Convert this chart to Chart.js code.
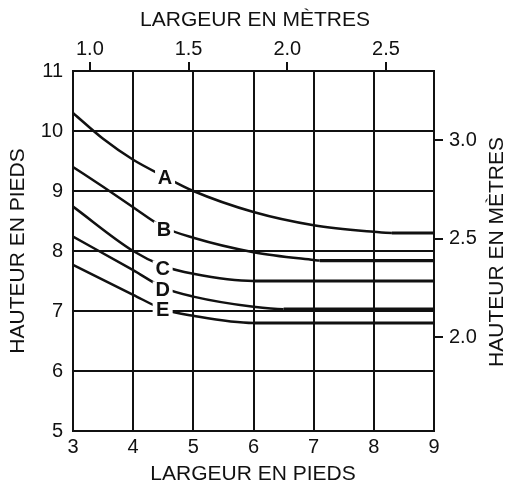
<!DOCTYPE html>
<html>
<head>
<meta charset="utf-8">
<style>
  html, body { margin: 0; padding: 0; background: #fff; }
  canvas { display: block; }
</style>
<script src="https://cdn.jsdelivr.net/npm/chart.js@4"></script>
</head>
<body>
<canvas id="c" width="513" height="486"></canvas>
<script>
// values (feet)
const curveA = [[3, 10.3], [3.5, 9.87], [4, 9.52], [4.5, 9.25], [5, 9.0], [6, 8.65], [7, 8.43], [8, 8.32], [8.3, 8.3], [9, 8.3]];
const curveB = [[3, 9.4], [3.5, 9.07], [4, 8.73], [4.5, 8.4], [5, 8.22], [6, 7.98], [7, 7.85], [7.1, 7.84], [9, 7.84]];
const curveC = [[3, 8.74], [4, 8.0], [4.5, 7.75], [5, 7.62], [6, 7.5], [9, 7.5]];
const curveD = [[3, 8.24], [4, 7.68], [4.5, 7.39], [5, 7.24], [6, 7.07], [6.5, 7.03], [9, 7.03]];
const curveE = [[3, 7.77], [4, 7.27], [4.5, 7.03], [5, 6.92], [6, 6.8], [9, 6.8]];

const curveNames = ["A", "B", "C", "D", "E"];
// where each letter sits on its curve
const labelX = [4.53, 4.51, 4.49, 4.49, 4.49];
const labelY = [9.23, 8.36, 7.71, 7.36, 7.02];

const meterTicksX = [1.0, 1.5, 2.0, 2.5];
const meterTicksY = [2.0, 2.5, 3.0];
const FT = 0.3048;

const FONT = "'Liberation Sans', Arial, sans-serif";
const INK = "#111";

function toPts(arr){
  return arr.map(p => ({ x: p[0], y: p[1] }));
}

const curves = [curveA, curveB, curveC, curveD, curveE];
const datasets = curves.map((c, i) => ({
  label: curveNames[i],
  data: toPts(c),
  borderColor: INK,
  borderWidth: 2.5,
  pointRadius: 0,
  fill: false,
  cubicInterpolationMode: "monotone",
  segment: {
    // the flat tails are drawn heavier in the reference
    borderWidth: ctx => ctx.p0.parsed.y === ctx.p1.parsed.y ? 3.2 : 2.5
  }
}));

const letterPlugin = {
  id: "letters",
  afterDatasetsDraw(chart){
    const { ctx, scales } = chart;
    ctx.save();
    ctx.font = "bold 20px " + FONT;
    ctx.textAlign = "center";
    ctx.textBaseline = "middle";
    curveNames.forEach((n, i) => {
      const px = scales.x.getPixelForValue(labelX[i]);
      const py = scales.y.getPixelForValue(labelY[i]);
      ctx.fillStyle = "#fff";
      ctx.fillRect(px - 10, py - 8, 20, 16);
      ctx.fillStyle = INK;
      ctx.fillText(n, px, py + 1);
    });
    ctx.restore();
  }
};

const titlePlugin = {
  id: "titles",
  afterDraw(chart){
    const ctx = chart.ctx;
    ctx.save();
    ctx.fillStyle = INK;
    ctx.font = "21px " + FONT;
    ctx.textAlign = "center";
    ctx.textBaseline = "middle";
    ctx.fillText("LARGEUR EN MÈTRES", 255, 20);
    ctx.fillText("LARGEUR EN PIEDS", 253, 474);
    ctx.translate(18, 251);
    ctx.rotate(-Math.PI / 2);
    ctx.fillText("HAUTEUR EN PIEDS", 0, 0);
    ctx.restore();
    ctx.save();
    ctx.fillStyle = INK;
    ctx.font = "21px " + FONT;
    ctx.textAlign = "center";
    ctx.textBaseline = "middle";
    ctx.translate(497, 252);
    ctx.rotate(-Math.PI / 2);
    ctx.fillText("HAUTEUR EN MÈTRES", 0, 0);
    ctx.restore();
  }
};

const tickFont = { family: FONT, size: 20 };

new Chart(document.getElementById("c"), {
  type: "line",
  data: { datasets },
  plugins: [letterPlugin, titlePlugin],
  options: {
    responsive: false,
    devicePixelRatio: 1,
    animation: false,
    layout: { padding: 0 },
    plugins: { legend: { display: false }, tooltip: { enabled: false } },
    scales: {
      x: {
        type: "linear", position: "bottom", min: 3, max: 9,
        ticks: { stepSize: 1, color: INK, font: tickFont, padding: 4, maxRotation: 0 },
        grid: { color: INK, lineWidth: 2, drawTicks: false },
        border: { display: true, color: INK, width: 2 },
        afterFit(s){ s.height = 55; }
      },
      xm: {
        type: "linear", position: "top", min: 3 * FT, max: 9 * FT,
        afterBuildTicks(s){ s.ticks = meterTicksX.map(v => ({ value: v })); },
        ticks: { color: INK, font: tickFont, padding: 1, maxRotation: 0, callback: v => Number(v).toFixed(1) },
        grid: { color: INK, lineWidth: 2, drawOnChartArea: false, tickLength: 9 },
        border: { display: true, color: INK, width: 2 },
        afterFit(s){ s.height = 71; }
      },
      y: {
        type: "linear", position: "left", min: 5, max: 11,
        ticks: { stepSize: 1, color: INK, font: tickFont, padding: 10 },
        grid: { color: INK, lineWidth: 2, drawTicks: false },
        border: { display: true, color: INK, width: 2 },
        afterFit(s){ s.width = 73; }
      },
      ym: {
        type: "linear", position: "right", min: 5 * FT, max: 11 * FT,
        afterBuildTicks(s){ s.ticks = meterTicksY.map(v => ({ value: v })); },
        ticks: { color: INK, font: tickFont, padding: 6, callback: v => Number(v).toFixed(1) },
        grid: { color: INK, lineWidth: 2, drawOnChartArea: false, tickLength: 9 },
        border: { display: true, color: INK, width: 2 },
        afterFit(s){ s.width = 79; }
      }
    }
  }
});
</script>
</body>
</html>
